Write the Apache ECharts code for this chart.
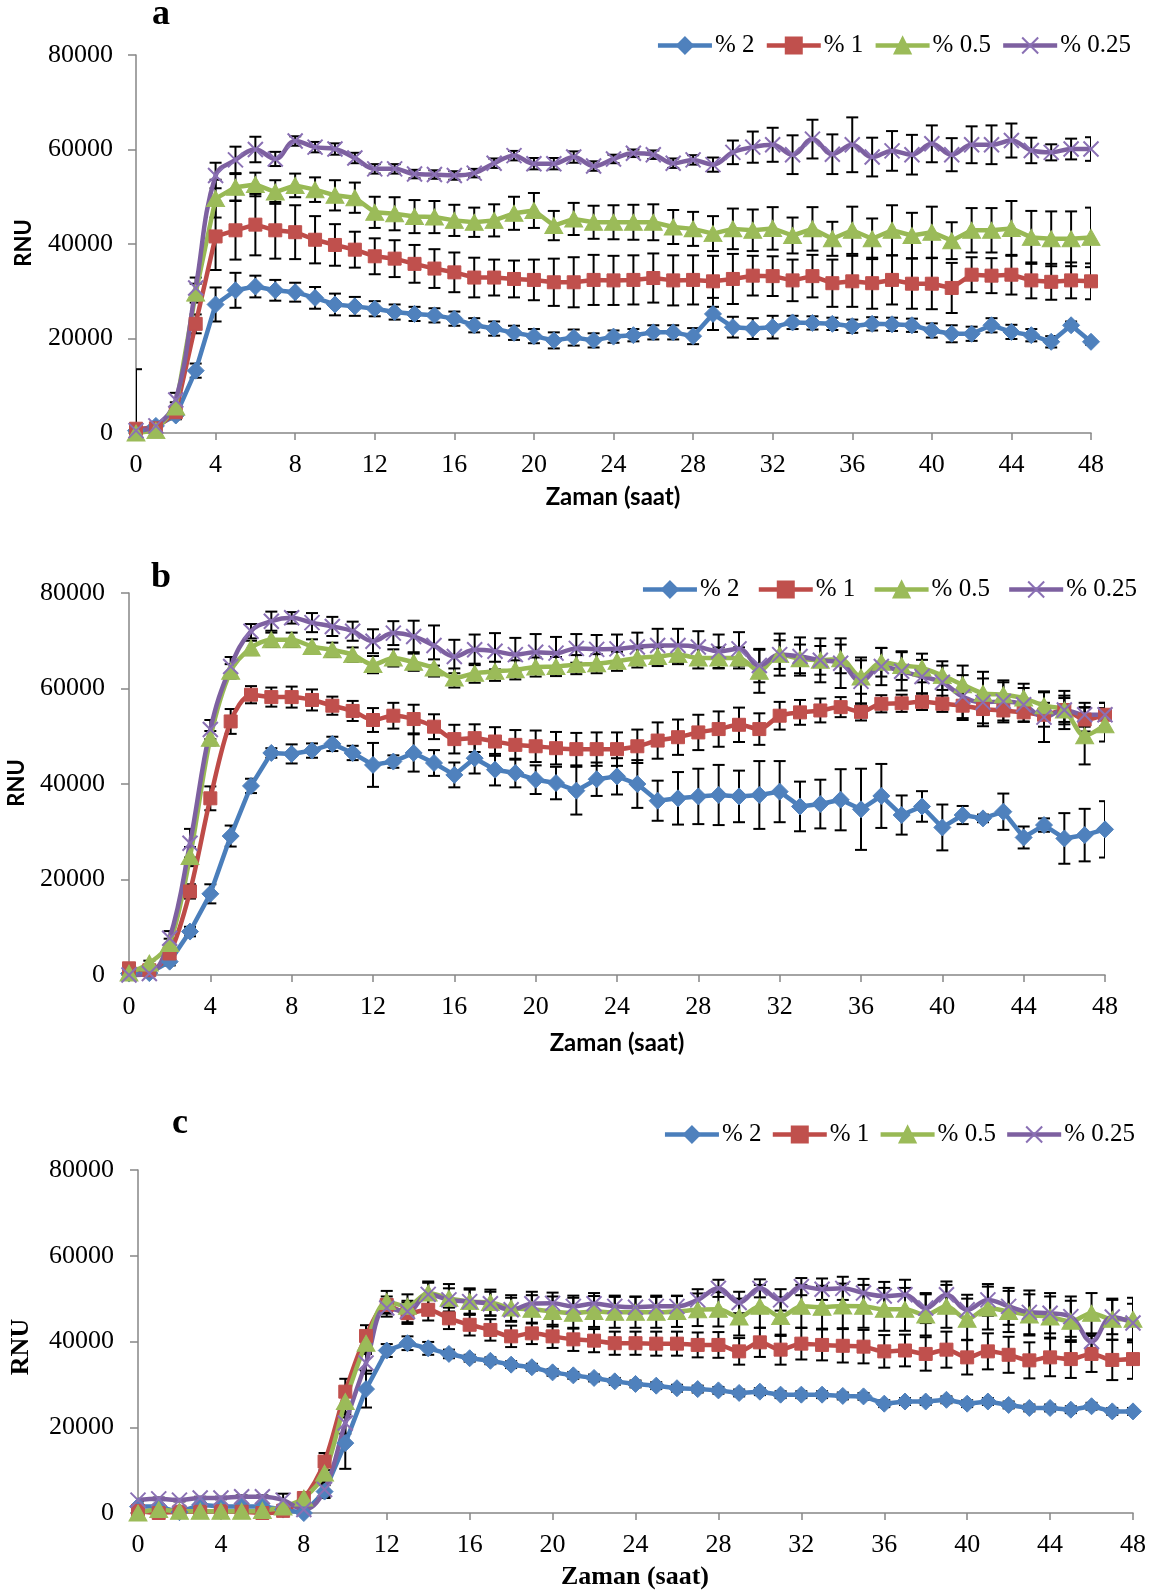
<!DOCTYPE html>
<html>
<head>
<meta charset="utf-8">
<script src="https://cdn.jsdelivr.net/npm/echarts@6/dist/echarts.min.js"></script>
<style>
  html, body { margin: 0; padding: 0; background: #ffffff; }
  #chart { width: 1152px; height: 1593px; }
</style>
</head>
<body>
<div id="chart"></div>
<script>
// ---- Shared axes ----
const hours = [0,1,2,3,4,5,6,7,8,9,10,11,12,13,14,15,16,17,18,19,20,21,22,23,24,
               25,26,27,28,29,30,31,32,33,34,35,36,37,38,39,40,41,42,43,44,45,46,47,48];
const xTicks = [0,4,8,12,16,20,24,28,32,36,40,44,48];
const yTicks = [0,20000,40000,60000,80000];
const seriesNames = ['% 2', '% 1', '% 0.5', '% 0.25'];
const panelLetters = ['a', 'b', 'c'];
const xTitle = 'Zaman (saat)';
const yTitle = 'RNU';

// ---- Panel a: mean RNU and standard deviation ----
const a_pct2 = [500,1500,3700,13200,27200,30200,31000,30200,29800,28600,
  27200,26800,26300,25600,25200,24900,24200,22800,22100,21200,
  20500,19600,20200,19600,20400,20700,21300,21300,20500,25200,
  22400,22100,22400,23400,23300,23100,22600,23100,23000,22800,
  21700,21000,21000,22800,21400,20700,19300,22800,19300];
const a_pct2_sd = [13000,500,800,1500,3600,3700,2300,2200,2000,2300,
  2300,2000,1600,1600,1500,1500,1500,1500,1500,1500,
  1500,1700,1700,1500,1300,1300,1500,1500,1700,3400,
  2200,2200,2400,1400,1400,1300,1400,1400,1400,1400,
  1500,1800,1500,1500,1500,1300,1200,800,600];
const a_pct1 = [900,1000,4400,23100,41600,42900,44100,42900,42500,40900,
  39800,38800,37400,36900,35800,34800,34000,32900,32900,32600,
  32400,31900,31900,32400,32300,32400,32800,32300,32400,32100,
  32600,33300,33200,32300,33200,31700,32100,31700,32400,31600,
  31600,30700,33500,33300,33500,32300,32000,32300,32100];
const a_pct1_sd = [600,500,1000,2000,7100,6200,6500,6000,5700,5000,
  4400,3800,3800,3900,4000,4100,4200,4200,3800,3900,
  4300,5000,5300,5300,5200,5200,5200,5300,5200,5400,
  5300,4200,4200,4400,4500,5000,5400,5400,5200,5300,
  5400,5300,3700,3700,4200,3800,3800,3800,3800];
const a_pct05 = [0,500,5500,29600,49600,52000,52600,51000,52400,51500,
  50300,49800,46700,46400,45800,45700,45000,44600,45000,46500,
  47100,43900,45300,44600,44600,44600,44600,43600,43200,42200,
  43200,42900,43300,41800,43200,41100,42900,41100,42900,41800,
  42500,40700,42900,42900,43300,41400,41100,41100,41400];
const a_pct05_sd = [300,500,1000,2000,4000,2800,2500,2500,2500,2600,
  3200,3200,3300,3500,3500,3400,3300,3100,3400,3500,
  3700,3100,3400,3500,3600,3700,3800,3600,3600,3700,
  4300,4400,4500,3800,4600,3600,5000,4300,5300,4800,
  5400,3900,4700,4700,5800,5600,5800,5800,6300];
const a_pct025 = [500,1500,7000,30700,54500,57800,60000,58000,61800,60500,
  60100,58200,55900,55900,54800,54700,54500,55000,57100,58700,
  57000,57000,58400,56500,58000,59200,58900,57100,57800,56800,
  59400,60500,61000,58900,62200,59000,61000,58400,59700,58900,
  61200,58900,61000,61000,61900,59800,59400,60100,60100];
const a_pct025_sd = [300,500,1500,2200,2700,2800,2700,1500,1000,1100,
  1200,1100,1000,1000,900,900,900,900,1000,1000,
  1200,1200,1200,1000,900,800,900,1000,1000,1500,
  2500,3300,3600,4100,4100,4200,5800,4100,4200,4200,
  3900,3500,3900,4100,3600,2700,1700,2200,2500];

// ---- Panel b ----
const b_pct2 = [300,400,2800,9100,17000,29100,39600,46500,46300,47000,
  48400,46500,44000,44700,46500,44400,41900,45400,43000,42300,
  40900,40200,38600,41000,41600,40000,36500,37000,37400,37700,
  37400,37700,38400,35300,35800,36700,34700,37500,33500,35300,
  30900,33500,32800,34200,28800,31400,28600,29300,30500];
const b_pct2_sd = [300,300,800,1000,2000,2200,1500,1000,2000,1500,
  1500,1500,4600,1300,3900,2700,2600,3200,3300,3000,
  3000,3400,5000,3500,3800,5000,4200,5500,5800,6300,
  5400,7100,6400,5200,5100,6400,8500,6700,4100,3200,
  4800,1900,800,3800,2300,1400,5300,5500,5900];
const b_pct1 = [1400,1000,4500,17500,37000,53100,58700,58200,58200,57600,
  56400,55300,53400,54300,53600,52000,49400,49600,48900,48200,
  47900,47500,47300,47300,47300,47900,49100,49800,50800,51500,
  52400,51500,54300,55000,55400,56100,55100,56800,56900,57200,
  56800,56400,55700,55400,55000,54500,55500,53500,54500];
const b_pct1_sd = [1000,500,1000,1500,2500,2600,1800,2000,2200,2200,
  1900,2100,2500,2700,3000,2600,3000,2900,3000,3100,
  3300,3400,3400,3500,3500,3500,3800,3700,3700,3700,
  3600,3300,2900,2600,2500,2100,1800,1800,1800,1700,
  1700,3000,3000,2500,2000,2500,2500,2500,2500];
const b_pct05 = [400,2500,6600,24800,49600,63600,68500,70200,70200,68800,
  68100,67100,65000,66400,65500,64300,62200,63200,63600,63900,
  64500,64600,65000,65200,65700,66400,66700,67100,66400,66400,
  66400,63600,67100,66200,65900,66200,62400,65500,64800,64300,
  62700,60800,59000,58700,58000,56400,55500,50100,52400];
const b_pct05_sd = [300,500,1000,2000,1500,1500,1500,1500,1500,1500,
  1500,1500,1800,1800,1800,1800,2000,2000,2000,2000,
  2000,2000,2000,2000,2000,2000,2000,2000,2200,2200,
  2200,4500,3000,3000,3000,3000,3500,3000,3000,3000,
  3000,4000,4500,3000,3000,3000,4000,6000,3500];
const b_pct025 = [0,300,7700,27600,51400,64600,72000,74100,74800,73800,
  73000,72000,69900,71600,70900,69000,66700,68100,67800,67100,
  67600,67400,68400,68200,68300,68700,69000,69000,68700,67800,
  68300,64800,67100,66700,65900,65300,61500,64600,63600,62500,
  61300,58300,57100,57300,56600,54000,55500,54500,54500];
const b_pct025_sd = [300,500,1500,3000,2000,2000,1500,2000,1200,2000,
  2000,2000,2500,2500,3300,4200,3500,3200,3800,3500,
  3800,3400,3000,3000,3000,3000,3500,3500,3300,3500,
  3500,3500,4400,4000,4600,5200,5000,3900,4000,3500,
  3500,4500,5000,4000,3500,5200,3000,2500,2500];

// ---- Panel c ----
const c_pct2 = [1500,1500,200,1900,1500,1500,1500,800,0,5000,
  16300,28900,37900,39600,38400,37100,36100,35500,34600,34000,
  32800,32100,31500,30700,30100,29700,29100,28900,28600,28000,
  28300,27600,27600,27600,27300,27200,25500,26000,26000,26400,
  25500,26000,25200,24500,24500,24100,24900,23700,23700];
const c_pct2_sd = [500,500,500,500,500,500,500,500,500,1500,
  6000,4300,1500,1600,1500,1000,800,800,800,800,
  800,800,800,800,800,800,800,800,800,800,
  800,800,800,800,800,800,800,800,800,800,
  800,800,800,800,800,800,800,800,800];
const c_pct1 = [500,0,300,300,400,300,0,500,3500,12000,
  28300,41300,48500,46600,47400,45400,43900,42700,41200,41900,
  41200,40500,40200,39600,39600,39500,39500,39200,39200,37700,
  39800,38100,39500,39200,39000,38800,37700,37900,37100,38100,
  36300,37700,36900,35600,36300,35900,37100,35700,35900];
const c_pct1_sd = [500,500,500,500,500,500,500,500,1000,2000,
  3000,2500,2000,2500,2500,2500,2500,2500,2500,2500,
  2700,2700,2700,2700,2700,2800,2800,2900,3000,3100,
  3400,3500,3700,3600,3900,3900,3800,3700,3900,4200,
  4000,4200,4200,4200,4400,4400,4200,4700,4600];
const c_pct05 = [0,800,400,400,400,400,600,1400,3500,9300,
  26000,39600,49300,48200,51300,50100,49300,49100,47800,47500,
  47000,46600,47000,46800,46800,46800,47000,47400,47500,45700,
  48200,45800,48200,48000,48300,48200,47500,47500,46200,48200,
  45200,47800,47000,46200,45700,44700,46600,45200,45200];
const c_pct05_sd = [500,500,500,500,500,500,500,500,1000,2000,
  3000,2500,2500,2800,2700,3300,3100,3000,3000,3300,
  3500,3600,3600,3600,3600,3600,3600,3800,4000,4300,
  5000,4500,5000,5000,5200,5000,5000,5000,4800,5000,
  4800,5000,4800,4800,4800,4800,4700,4800,5000];
const c_pct025 = [3000,3300,3000,3500,3500,3800,3800,3000,800,5500,
  21000,35000,47800,47000,51000,49700,49300,48800,47400,48800,
  48900,48200,48800,48200,48000,48200,48200,49700,52400,49100,
  52400,49700,52800,52200,52400,51300,50600,50900,47800,50900,
  47400,49700,48200,46800,46600,45800,40000,45700,44300];
const c_pct025_sd = [300,300,300,300,300,300,300,1500,500,1500,
  2500,2500,2000,2500,2700,2700,2800,2800,2800,2800,
  2500,2500,2500,2500,2500,2500,2500,2500,2000,2500,
  2100,2500,2000,2500,2700,3300,3300,3500,3500,3100,
  3500,3700,4300,5100,4700,4700,1500,4000,4500];

// ---- Styling ----
const lineColors   = ['#4A7EBB', '#BE4B48', '#98B954', '#7D60A0'];
const markerColors = ['#4F81BD', '#C0504D', '#9BBB59', '#8064A2'];
const markerShapes = ['diamond', 'rect', 'triangle', 'path://M0,0L10,10M10,0L0,10'];
const markerSizes  = [17, 13, [18, 16], 15];
const axisGray = '#868686';
const serif = '"Liberation Serif", "Times New Roman", serif';
const sans = 'Lato, "Open Sans", sans-serif';

const panels = [
  {
    values: [a_pct2, a_pct1, a_pct05, a_pct025],
    errors: [a_pct2_sd, a_pct1_sd, a_pct05_sd, a_pct025_sd],
    smooth: [false, false, false, 0.4],
    grid: { left: 136, top: 55, width: 955, height: 378 },
    legend: { top: 28, right: 16, gap: 10 },
    letterPos: [161, 15], xTitlePos: [613, 497], yTitlePos: [24, 243],
    titleFont: 'bold 24px ' + sans, yTitleFont: 'bold 22px ' + sans, yLabelMargin: 23
  },
  {
    values: [b_pct2, b_pct1, b_pct05, b_pct025],
    errors: [b_pct2_sd, b_pct1_sd, b_pct05_sd, b_pct025_sd],
    smooth: [false, 0.3, 0.3, 0.4],
    grid: { left: 129, top: 593, width: 976, height: 382 },
    legend: { top: 572, right: 10, gap: 17 },
    letterPos: [161, 578], xTitlePos: [617, 1043], yTitlePos: [17, 783],
    titleFont: 'bold 24px ' + sans, yTitleFont: 'bold 22px ' + sans, yLabelMargin: 24
  },
  {
    values: [c_pct2, c_pct1, c_pct05, c_pct025],
    errors: [c_pct2_sd, c_pct1_sd, c_pct05_sd, c_pct025_sd],
    smooth: [false, 0.3, 0.3, 0.4],
    grid: { left: 138, top: 1170, width: 995, height: 343 },
    legend: { top: 1117, right: 12, gap: 9 },
    letterPos: [180, 1124], xTitlePos: [635, 1577], yTitlePos: [21, 1347],
    titleFont: 'bold 26px ' + serif, yTitleFont: 'bold 26px ' + serif, yLabelMargin: 24
  }
];

// Vertical error bar with caps, drawn through the y axis scale
function renderErrorBar(params, api) {
  const x = api.value(0);
  const top = api.coord([x, api.value(2)]);
  const bottom = api.coord([x, api.value(1)]);
  const cap = 6;
  const style = { stroke: '#000000', lineWidth: 2 };
  return {
    type: 'group',
    children: [
      { type: 'line', shape: { x1: top[0], y1: top[1], x2: bottom[0], y2: bottom[1] }, style: style },
      { type: 'line', shape: { x1: top[0] - cap, y1: top[1], x2: top[0] + cap, y2: top[1] }, style: style },
      { type: 'line', shape: { x1: bottom[0] - cap, y1: bottom[1], x2: bottom[0] + cap, y2: bottom[1] }, style: style }
    ]
  };
}

const plainNumber = function (v) { return String(v); };
const grids = [], xAxes = [], yAxes = [], legends = [], series = [], graphics = [];

panels.forEach(function (p, pi) {
  grids.push(Object.assign({ containLabel: false }, p.grid));

  xAxes.push({
    type: 'value', gridIndex: pi,
    min: xTicks[0], max: xTicks[xTicks.length - 1], interval: xTicks[1] - xTicks[0],
    axisLine: { show: true, onZero: false, lineStyle: { color: axisGray, width: 1.5 } },
    axisTick: { show: true, length: 7, lineStyle: { color: axisGray, width: 1.5 } },
    splitLine: { show: false },
    axisLabel: { color: '#000', fontFamily: serif, fontSize: 26, margin: 19, formatter: plainNumber }
  });

  yAxes.push({
    type: 'value', gridIndex: pi,
    min: yTicks[0], max: yTicks[yTicks.length - 1], interval: yTicks[1] - yTicks[0],
    axisLine: { show: true, lineStyle: { color: axisGray, width: 1.5 } },
    axisTick: { show: true, length: 8, lineStyle: { color: axisGray, width: 1.5 } },
    splitLine: { show: false },
    axisLabel: { color: '#000', fontFamily: serif, fontSize: 26, margin: p.yLabelMargin, formatter: plainNumber }
  });

  legends.push({
    data: seriesNames.slice(),
    top: p.legend.top, right: p.legend.right, itemGap: p.legend.gap,
    itemWidth: 54, itemHeight: 20, selectedMode: false, orient: 'horizontal',
    lineStyle: { width: 4.5 },
    textStyle: { color: '#000', fontFamily: serif, fontSize: 25, padding: [0, 0, 0, -2] }
  });

  // error bars first so lines and markers sit on top
  seriesNames.forEach(function (name, si) {
    const v = p.values[si], e = p.errors[si];
    series.push({
      type: 'custom', name: 'sd ' + name, xAxisIndex: pi, yAxisIndex: pi,
      renderItem: renderErrorBar, clip: true, z: 2, silent: true,
      data: hours.map(function (h, i) { return [h, v[i] - e[i], v[i] + e[i]]; })
    });
  });

  seriesNames.forEach(function (name, si) {
    const v = p.values[si];
    const isCross = si === 3;
    series.push({
      type: 'line', name: name, xAxisIndex: pi, yAxisIndex: pi, z: 3,
      clip: false, smooth: p.smooth[si],
      symbol: markerShapes[si], symbolSize: markerSizes[si],
      lineStyle: { color: lineColors[si], width: 4.5 },
      itemStyle: isCross
        ? { color: markerColors[si], borderColor: '#8A70B4', borderWidth: 2 }
        : { color: markerColors[si], borderColor: markerColors[si], borderWidth: 1 },
      data: hours.map(function (h, i) { return [h, v[i]]; })
    });
  });

  graphics.push({
    type: 'text', x: p.letterPos[0], y: p.letterPos[1],
    style: { text: panelLetters[pi], font: 'bold 36px ' + serif, fill: '#000',
             textAlign: 'center', textVerticalAlign: 'middle', align: 'center', verticalAlign: 'middle' }
  });
  graphics.push({
    type: 'text', x: p.xTitlePos[0], y: p.xTitlePos[1],
    style: { text: xTitle, font: p.titleFont, fill: '#000',
             textAlign: 'center', textVerticalAlign: 'middle', align: 'center', verticalAlign: 'middle' }
  });
  graphics.push({
    type: 'text', x: p.yTitlePos[0], y: p.yTitlePos[1], rotation: Math.PI / 2,
    style: { text: yTitle, font: p.yTitleFont, fill: '#000',
             textAlign: 'center', textVerticalAlign: 'middle', align: 'center', verticalAlign: 'middle' }
  });
});

const chart = echarts.init(document.getElementById('chart'), null, { renderer: 'canvas' });
chart.setOption({
  backgroundColor: '#ffffff',
  animation: false,
  grid: grids,
  xAxis: xAxes,
  yAxis: yAxes,
  legend: legends,
  series: series,
  graphic: graphics
});
</script>
</body>
</html>
